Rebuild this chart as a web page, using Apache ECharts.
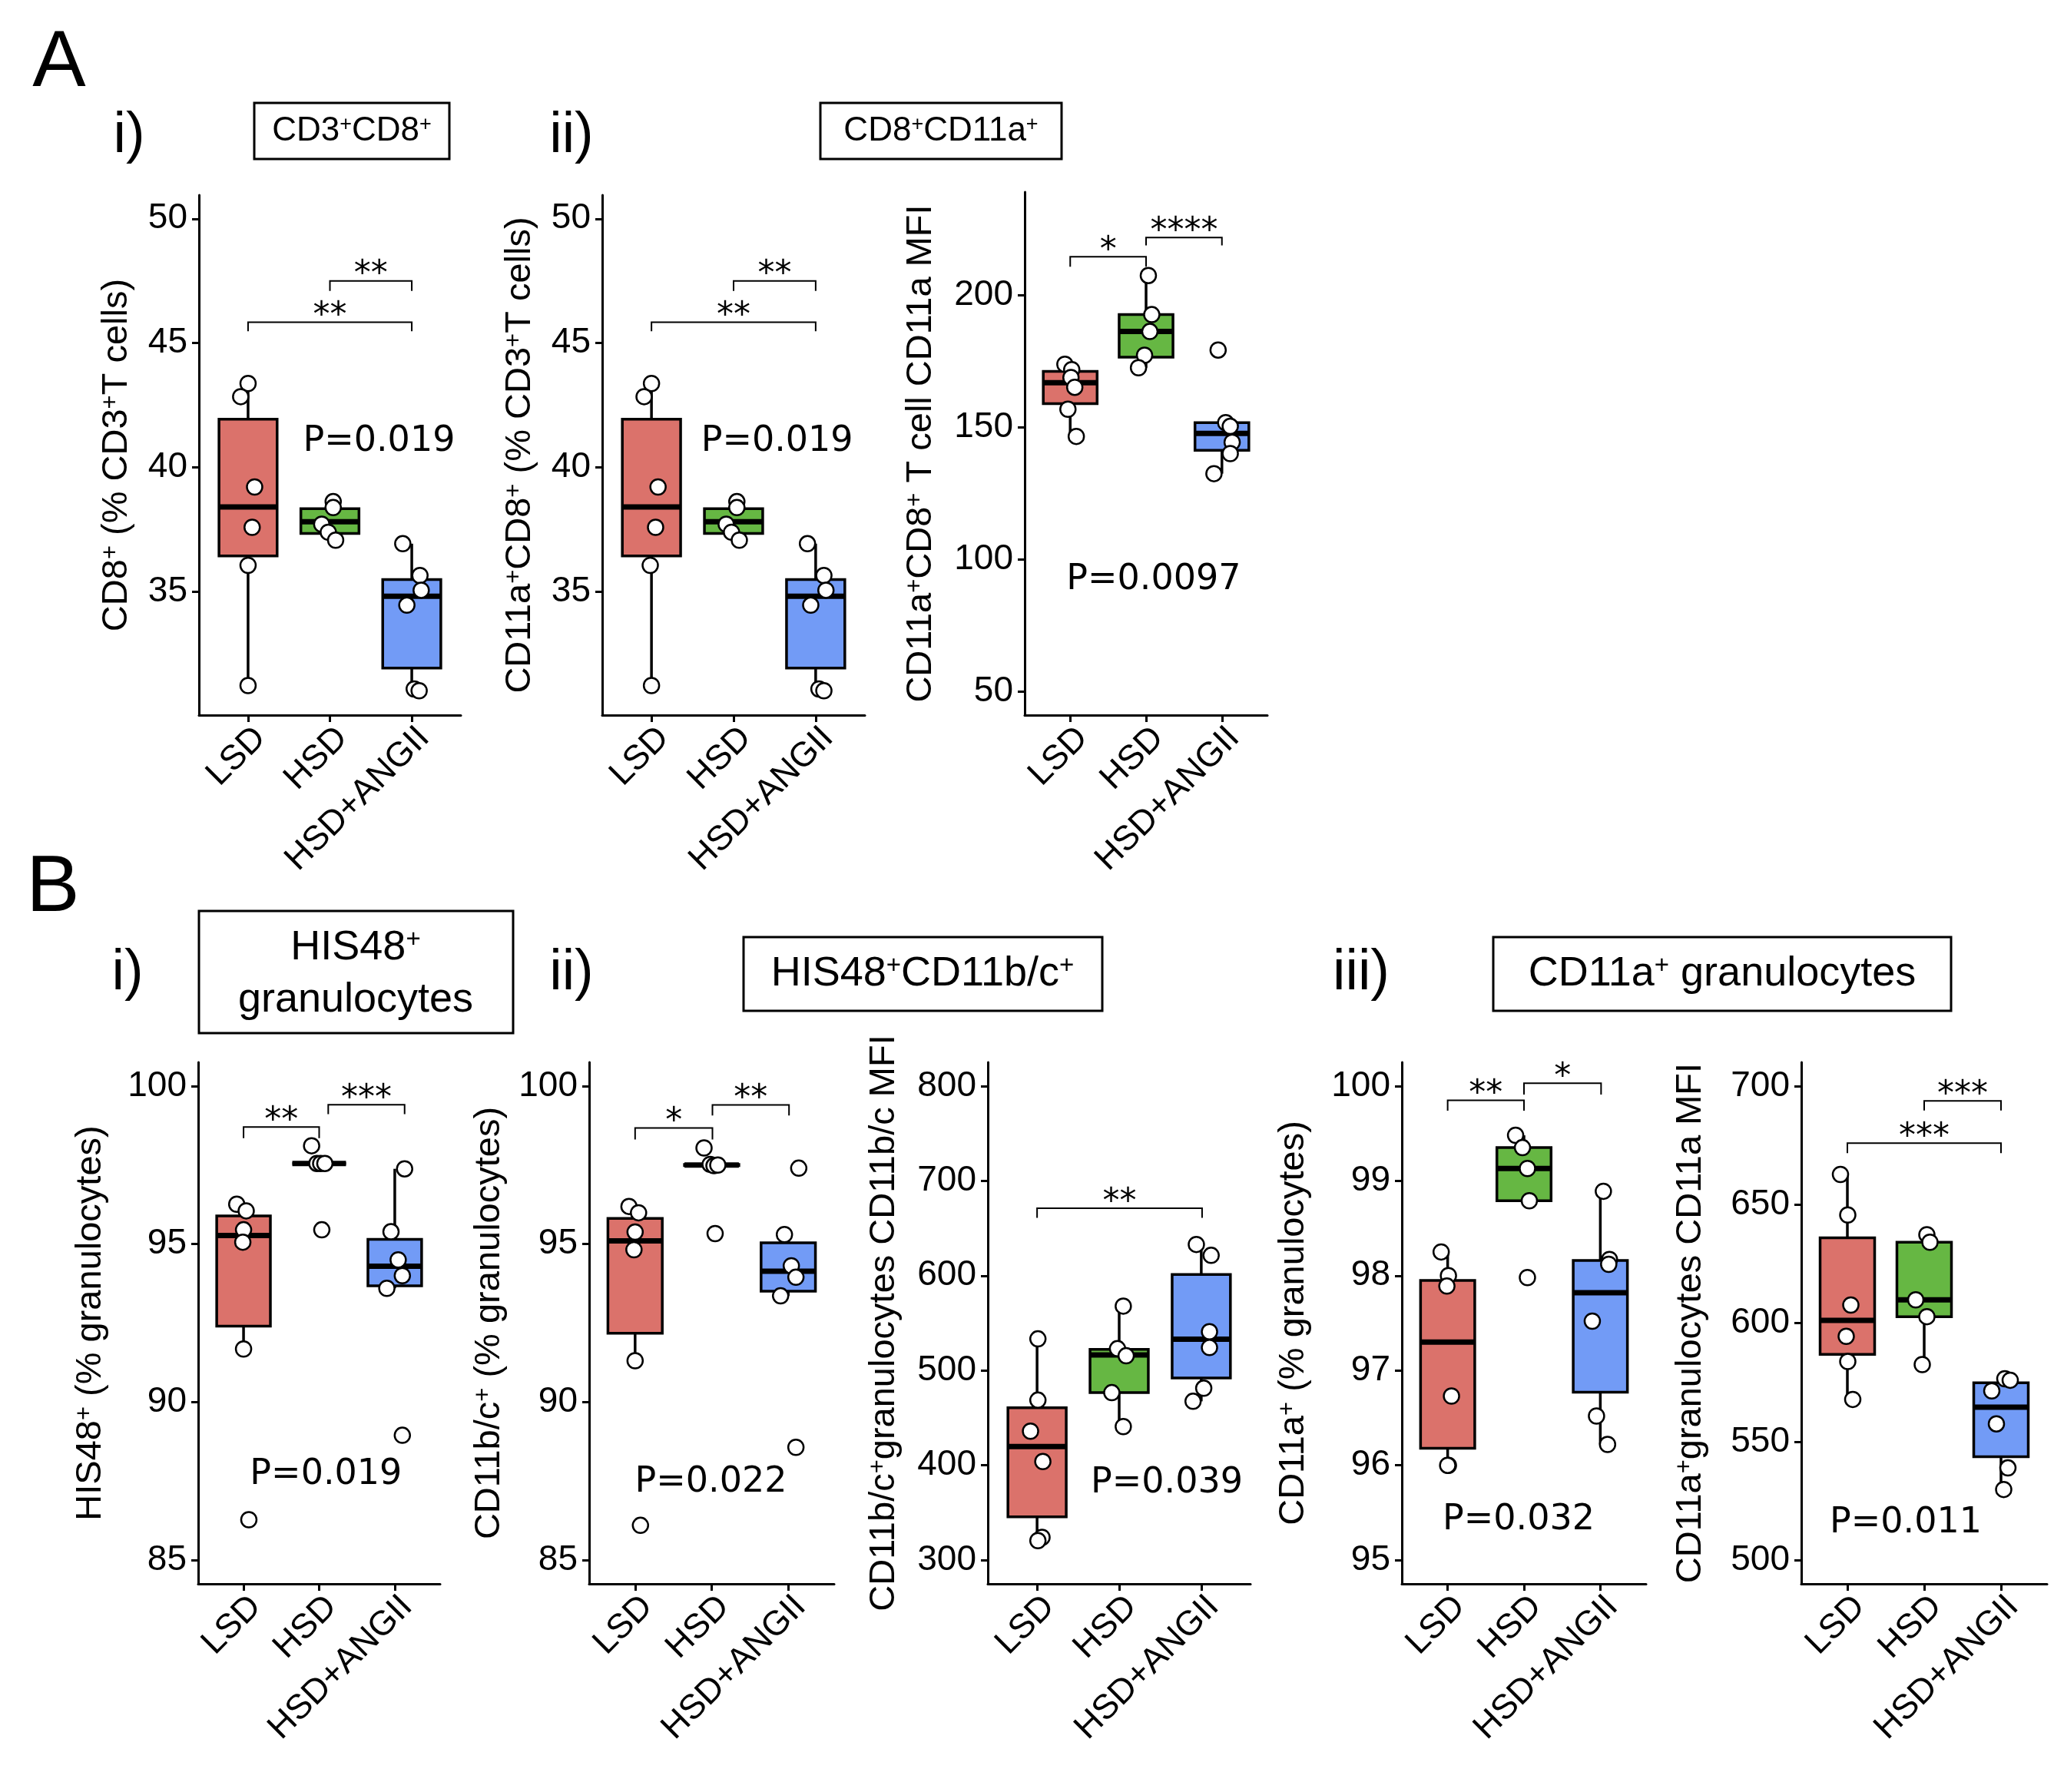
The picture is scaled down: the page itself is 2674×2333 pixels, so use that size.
<!DOCTYPE html>
<html><head><meta charset="utf-8">
<script src="https://cdn.jsdelivr.net/npm/echarts@6/dist/echarts.min.js"></script>
<style>html,body{margin:0;padding:0;background:#fff}#c{width:2674px;height:2333px}</style>
</head><body><div id="c"></div>
<script>
const groups = ['LSD', 'HSD', 'HSD+ANGII'];
const groupColors = ['#DB726B', '#66B743', '#729BF6'];

// box stats per group: [min, q1, median, q3, max]; points: [jitter offset, value]
// A-i  CD8+ (% CD3+ T cells)
const a1Box = [[31.24, 36.45, 38.42, 41.94, 43.38], [37.08, 37.35, 37.82, 38.35, 38.63], [31.05, 31.94, 34.83, 35.50, 36.94]];
const a1Pts = [
  [[0, 43.38], [-0.09, 42.85], [0.08, 39.22], [0.05, 37.6], [0, 36.07], [0, 31.24]],
  [[0.04, 38.63], [0.04, 38.39], [-0.1, 37.72], [-0.02, 37.4], [0.07, 37.08]],
  [[-0.11, 36.94], [0.1, 35.66], [0.115, 35.07], [-0.06, 34.47], [0.03, 31.1], [0.09, 31.03]]
];
const a1Sig = [[1, 3, 45.84, 45.48, '**'], [2, 3, 47.5, 47.1, '**']];
const a1P = [2.6, 41.05, 'P=0.019'];
const a1Ticks = [35, 40, 45, 50];

// A-ii  CD11a+CD8+ (% CD3+ T cells)
const a2Box = [[31.24, 36.45, 38.42, 41.94, 43.38], [37.08, 37.35, 37.82, 38.35, 38.63], [31.05, 31.94, 34.83, 35.50, 36.94]];
const a2Pts = [
  [[0, 43.38], [-0.09, 42.85], [0.08, 39.22], [0.05, 37.6], [-0.015, 36.07], [0, 31.24]],
  [[0.04, 38.63], [0.04, 38.39], [-0.09, 37.72], [-0.025, 37.4], [0.07, 37.08]],
  [[-0.1, 36.94], [0.1, 35.66], [0.125, 35.07], [-0.06, 34.47], [0.04, 31.1], [0.1, 31.03]]
];
const a2Sig = [[1, 3, 45.84, 45.48, '**'], [2, 3, 47.5, 47.1, '**']];
const a2P = [2.53, 41.05, 'P=0.019'];
const a2Ticks = [35, 40, 45, 50];

// A-iii  CD11a+CD8+ T cell CD11a MFI
const a3Box = [[146.5, 158.9, 166.8, 171.1, 173.8], [172.5, 176.5, 186.2, 192.6, 207.4], [132.4, 141.2, 147.6, 151.7, 151.7]];
const a3Pts = [
  [[-0.07, 173.8], [0.02, 171.8], [0.01, 168.8], [0.06, 165.1], [-0.03, 156.8], [0.08, 146.5]],
  [[0.03, 207.4], [0.075, 192.6], [0.05, 186.2], [-0.02, 177.2], [-0.1, 172.5]],
  [[-0.05, 179.2], [0.05, 151.7], [0.11, 150.3], [0.135, 144.3], [0.11, 140.0], [-0.105, 132.4]]
];
const a3Sig = [[1, 2, 214.5, 210.7, '*'], [2, 3, 221.8, 218.8, '****']];
const a3P = [2.1, 92.2, 'P=0.0097'];
const a3Ticks = [50, 100, 150, 200];

// B-i  HIS48+ (% granulocytes)
const b1Box = [[91.68, 92.4, 95.27, 95.89, 96.26], [97.55, 97.55, 97.55, 97.55, 97.55], [93.6, 93.68, 94.3, 95.15, 97.38]];
const b1Pts = [
  [[-0.09, 96.26], [0.035, 96.05], [0, 95.45], [-0.01, 95.06], [0, 91.68], [0.07, 86.28]],
  [[-0.1, 98.11], [-0.03, 97.55], [0.02, 97.55], [0.075, 97.55], [0.035, 95.45]],
  [[0.13, 97.38], [-0.05, 95.39], [0.045, 94.5], [0.1, 94.0], [-0.105, 93.6], [0.1, 88.95]]
];
const b1Sig = [[1, 2, 98.7, 98.35, '**'], [2.12, 3.13, 99.41, 99.11, '***']];
const b1P = [2.09, 87.7, 'P=0.019'];
const b1Ticks = [85, 90, 95, 100];

// B-ii  CD11b/c+ (% granulocytes)
const b2Box = [[91.31, 92.18, 95.1, 95.81, 96.19], [97.48, 97.48, 97.5, 97.52, 97.52], [93.36, 93.51, 94.14, 95.04, 95.3]];
const b2Pts = [
  [[-0.08, 96.19], [0.045, 95.99], [0, 95.38], [-0.015, 94.82], [0, 91.31], [0.07, 86.1]],
  [[-0.1, 98.04], [-0.02, 97.52], [0.03, 97.48], [0.08, 97.5], [0.045, 95.33]],
  [[0.137, 97.4], [-0.05, 95.3], [0.04, 94.31], [0.1, 93.95], [-0.1, 93.36], [0.1, 88.57]]
];
const b2Sig = [[1, 2.01, 98.67, 98.31, '*'], [2.01, 3.01, 99.4, 99.07, '**']];
const b2P = [1.99, 87.45, 'P=0.022'];
const b2Ticks = [85, 90, 95, 100];

// B-ii  CD11b/c+ granulocytes CD11b/c MFI
const b3Box = [[320.6, 345.6, 419.8, 460.7, 533.3], [440.9, 476.6, 516.3, 522.2, 567.9], [467.5, 492.1, 532.9, 601.2, 632.9]];
const b3Pts = [
  [[0.01, 533.3], [0.01, 468.7], [-0.08, 436], [0.07, 404], [0.06, 324], [0.01, 320.6]],
  [[0.05, 567.9], [-0.02, 523], [0.085, 515.5], [-0.09, 476.6], [0.05, 440.9]],
  [[-0.06, 632.9], [0.12, 621.4], [0.1, 540.9], [0.1, 524.2], [0.03, 481.3], [-0.1, 467.5]]
];
const b3Sig = [[1, 3.01, 671, 661, '**']];
const b3P = [2.58, 381, 'P=0.039'];
const b3Ticks = [300, 400, 500, 600, 700, 800];

// B-iii  CD11a+ (% granulocytes)
const b4Box = [[96.0, 96.18, 97.3, 97.95, 98.25], [98.79, 98.79, 99.13, 99.35, 99.48], [96.22, 96.77, 97.82, 98.16, 98.89]];
const b4Pts = [
  [[-0.085, 98.25], [0.01, 98.0], [-0.01, 97.89], [0.05, 96.73], [0.01, 96.0], [0, 96.0]],
  [[-0.11, 99.48], [-0.02, 99.35], [0.045, 99.13], [0.07, 98.79], [0.045, 97.98]],
  [[0.04, 98.89], [0.12, 98.17], [0.11, 98.12], [-0.105, 97.52], [-0.05, 96.52], [0.095, 96.22]]
];
const b4Sig = [[1, 2, 99.85, 99.74, '**'], [2, 3.01, 100.03, 99.91, '*']];
const b4P = [1.93, 95.42, 'P=0.032'];
const b4Ticks = [95, 96, 97, 98, 99, 100];

// B-iii  CD11a+ granulocytes CD11a MFI
const b5Box = [[567.8, 586.8, 601.1, 636.0, 662.7], [582.5, 602.7, 609.8, 634.1, 637.3], [529.8, 543.6, 564.5, 574.8, 576.5]];
const b5Pts = [
  [[-0.09, 662.7], [0.005, 645.6], [0.045, 607.6], [-0.015, 594.4], [0.005, 583.8], [0.07, 567.8]],
  [[0.035, 637.3], [0.075, 634.1], [-0.11, 609.8], [0.035, 602.7], [-0.025, 582.5]],
  [[0.05, 576.5], [0.12, 575.9], [-0.12, 571.4], [-0.06, 557.5], [0.09, 538.9], [0.035, 529.8]]
];
const b5Sig = [[1, 3, 675.9, 671.7, '***'], [2, 3, 693.7, 689.7, '***']];
const b5P = [1.76, 515.5, 'P=0.011'];
const b5Ticks = [500, 550, 600, 650, 700];

const panels = [
  {box: a1Box, pts: a1Pts, sig: a1Sig, p: a1P, ticks: a1Ticks, min: 30.05, max: 50.95,
   name: '{n|CD8}{s|+}{n| (% CD3}{s|+}{n|T cells)}', grid: {left: 259, top: 254, width: 341, height: 677}, gap: 83},
  {box: a2Box, pts: a2Pts, sig: a2Sig, p: a2P, ticks: a2Ticks, min: 30.05, max: 50.95,
   name: '{n|CD11a}{s|+}{n|CD8}{s|+}{n| (% CD3}{s|+}{n|T cells)}', grid: {left: 784, top: 254, width: 342, height: 677}, gap: 83},
  {box: a3Box, pts: a3Pts, sig: a3Sig, p: a3P, ticks: a3Ticks, min: 41, max: 239,
   name: '{n|CD11a}{s|+}{n|CD8}{s|+}{n| T cell CD11a MFI}', grid: {left: 1334, top: 250, width: 316, height: 681}, gap: 111},
  {box: b1Box, pts: b1Pts, sig: b1Sig, p: b1P, ticks: b1Ticks, min: 84.25, max: 100.75,
   name: '{n|HIS48}{s|+}{n| (% granulocytes)}', grid: {left: 258, top: 1383, width: 315, height: 679}, gap: 116},
  {box: b2Box, pts: b2Pts, sig: b2Sig, p: b2P, ticks: b2Ticks, min: 84.25, max: 100.75,
   name: '{n|CD11b/c}{s|+}{n| (% granulocytes)}', grid: {left: 767, top: 1383, width: 319, height: 679}, gap: 106},
  {box: b3Box, pts: b3Pts, sig: b3Sig, p: b3P, ticks: b3Ticks, min: 275, max: 825,
   name: '{n|CD11b/c}{s|+}{n|granulocytes CD11b/c MFI}', grid: {left: 1286, top: 1383, width: 342, height: 679}, gap: 111},
  {box: b4Box, pts: b4Pts, sig: b4Sig, p: b4P, ticks: b4Ticks, min: 94.75, max: 100.25,
   name: '{n|CD11a}{s|+}{n| (% granulocytes)}', grid: {left: 1825, top: 1383, width: 318, height: 679}, gap: 117},
  {box: b5Box, pts: b5Pts, sig: b5Sig, p: b5P, ticks: b5Ticks, min: 490, max: 710,
   name: '{n|CD11a}{s|+}{n|granulocytes CD11a MFI}', grid: {left: 2345, top: 1383, width: 320, height: 679}, gap: 120}
];

const FONT = '"Liberation Sans", Arial, sans-serif';
const PFONT = '"DejaVu Sans", Verdana, sans-serif';
const BOX_HALF = 0.355;

function boxRender(boxes) {
  return function (params, api) {
    const i = params.dataIndex;
    const b = boxes[i];
    const x = i + 1;
    const pMin = api.coord([x, b[0]]), pQ1 = api.coord([x, b[1]]), pMed = api.coord([x, b[2]]);
    const pQ3 = api.coord([x, b[3]]), pMax = api.coord([x, b[4]]);
    const l = api.coord([x - BOX_HALF, b[2]])[0], r = api.coord([x + BOX_HALF, b[2]])[0];
    return {type: 'group', children: [
      {type: 'line', shape: {x1: pQ3[0], y1: pQ3[1], x2: pMax[0], y2: pMax[1]}, style: {stroke: '#000', lineWidth: 3.5}},
      {type: 'line', shape: {x1: pQ1[0], y1: pQ1[1], x2: pMin[0], y2: pMin[1]}, style: {stroke: '#000', lineWidth: 3.5}},
      {type: 'rect', shape: {x: l, y: pQ3[1], width: r - l, height: Math.max(pQ1[1] - pQ3[1], 0)},
       style: {fill: groupColors[i], stroke: '#000', lineWidth: 3.5}},
      {type: 'line', shape: {x1: l, y1: pMed[1], x2: r, y2: pMed[1]}, style: {stroke: '#000', lineWidth: 7}}
    ]};
  };
}
function sigRender(sig) {
  return function (params, api) {
    const s = sig[params.dataIndex];
    const a = api.coord([s[0], s[3]]), b = api.coord([s[0], s[2]]);
    const c = api.coord([s[1], s[2]]), d = api.coord([s[1], s[3]]);
    return {type: 'group', children: [
      {type: 'polyline', shape: {points: [a, b, c, d]}, style: {stroke: '#000', lineWidth: 2, fill: null}},
      {type: 'text', x: (b[0] + c[0]) / 2, y: b[1] - 7,
       style: {text: s[4], font: '44px ' + PFONT, fill: '#000', align: 'center', verticalAlign: 'middle'}}
    ]};
  };
}
function pRender(p) {
  return function (params, api) {
    const q = api.coord([p[0], p[1]]);
    return {type: 'text', x: q[0], y: q[1],
      style: {text: p[2], font: '46px ' + PFONT, fill: '#000', align: 'center', verticalAlign: 'middle'}};
  };
}

const grid = [], xAxis = [], yAxis = [], series = [];
panels.forEach((P, k) => {
  grid.push(Object.assign({containLabel: false}, P.grid));
  xAxis.push({
    type: 'value', gridIndex: k, min: 0.4, max: 3.6,
    axisLine: {show: true, lineStyle: {color: '#000', width: 3}},
    axisTick: {show: true, length: 9, lineStyle: {color: '#000', width: 3}, customValues: [1, 2, 3]},
    axisLabel: {customValues: [1, 2, 3], rotate: 45, margin: 7, fontSize: 45, fontFamily: FONT, color: '#000',
      align: 'right', verticalAlign: 'top',
      formatter: v => groups[Math.round(v) - 1]},
    splitLine: {show: false}
  });
  yAxis.push({
    type: 'value', gridIndex: k, min: P.min, max: P.max,
    axisLine: {show: true, lineStyle: {color: '#000', width: 3}},
    axisTick: {show: true, length: 9, lineStyle: {color: '#000', width: 3}, customValues: P.ticks},
    axisLabel: {customValues: P.ticks, margin: 15, fontSize: 46, fontFamily: FONT, color: '#000'},
    splitLine: {show: false},
    name: P.name, nameLocation: 'middle', nameGap: P.gap, nameRotate: 90,
    nameTextStyle: {fontFamily: FONT, color: '#000', fontSize: 47,
      rich: {n: {fontSize: 47, fontFamily: FONT, color: '#000'},
             s: {fontSize: 31, fontFamily: FONT, color: '#000', verticalAlign: 'top', padding: [0, 0, 14, 0]}}}
  });
  series.push({
    type: 'custom', xAxisIndex: k, yAxisIndex: k, z: 2,
    data: P.box.map((b, i) => [i + 1].concat(b)),
    encode: {x: 0, y: [1, 2, 3, 4, 5]},
    renderItem: boxRender(P.box)
  });
  series.push({
    type: 'scatter', xAxisIndex: k, yAxisIndex: k, z: 3,
    symbol: 'circle', symbolSize: 20,
    itemStyle: {color: '#fff', borderColor: '#000', borderWidth: 2.5, opacity: 1},
    data: P.pts.flatMap((g, i) => g.map(p => [i + 1 + p[0], p[1]]))
  });
  series.push({
    type: 'custom', xAxisIndex: k, yAxisIndex: k, z: 4,
    data: P.sig.map(s => s.slice(0, 4)),
    encode: {x: [0, 1], y: [2, 3]},
    renderItem: sigRender(P.sig)
  });
  series.push({
    type: 'custom', xAxisIndex: k, yAxisIndex: k, z: 4,
    data: [[P.p[0], P.p[1]]], encode: {x: 0, y: 1},
    renderItem: pRender(P.p)
  });
});

const supRich = (size) => ({
  n: {fontSize: size, fontFamily: FONT, color: '#000'},
  s: {fontSize: Math.round(size * 0.62), fontFamily: FONT, color: '#000', verticalAlign: 'top', padding: [0, 0, Math.round(size * 0.3), 0]}
});

const graphic = [
  {type: 'text', x: 77, y: 83, style: {text: 'A', font: '104px ' + FONT, fill: '#000', align: 'center', verticalAlign: 'middle'}},
  {type: 'text', x: 69, y: 1157, style: {text: 'B', font: '104px ' + FONT, fill: '#000', align: 'center', verticalAlign: 'middle'}},
  {type: 'text', x: 168, y: 178, style: {text: 'i)', font: '74px ' + FONT, fill: '#000', align: 'center', verticalAlign: 'middle'}},
  {type: 'text', x: 744, y: 178, style: {text: 'ii)', font: '74px ' + FONT, fill: '#000', align: 'center', verticalAlign: 'middle'}},
  {type: 'text', x: 166, y: 1268, style: {text: 'i)', font: '74px ' + FONT, fill: '#000', align: 'center', verticalAlign: 'middle'}},
  {type: 'text', x: 744, y: 1268, style: {text: 'ii)', font: '74px ' + FONT, fill: '#000', align: 'center', verticalAlign: 'middle'}},
  {type: 'text', x: 1772, y: 1268, style: {text: 'iii)', font: '74px ' + FONT, fill: '#000', align: 'center', verticalAlign: 'middle'}},
  {type: 'rect', shape: {x: 331, y: 134, width: 254, height: 73}, style: {fill: '#fff', stroke: '#000', lineWidth: 3}},
  {type: 'text', x: 458, y: 171, style: {text: '{n|CD3}{s|+}{n|CD8}{s|+}', rich: supRich(44), align: 'center', verticalAlign: 'middle'}},
  {type: 'rect', shape: {x: 1068, y: 134, width: 314, height: 73}, style: {fill: '#fff', stroke: '#000', lineWidth: 3}},
  {type: 'text', x: 1225, y: 171, style: {text: '{n|CD8}{s|+}{n|CD11a}{s|+}', rich: supRich(44), align: 'center', verticalAlign: 'middle'}},
  {type: 'rect', shape: {x: 259, y: 1186, width: 409, height: 159}, style: {fill: '#fff', stroke: '#000', lineWidth: 3}},
  {type: 'text', x: 463, y: 1234, style: {text: '{n|HIS48}{s|+}', rich: supRich(54), align: 'center', verticalAlign: 'middle'}},
  {type: 'text', x: 463, y: 1302, style: {text: 'granulocytes', font: '54px ' + FONT, fill: '#000', align: 'center', verticalAlign: 'middle'}},
  {type: 'rect', shape: {x: 968, y: 1220, width: 467, height: 96}, style: {fill: '#fff', stroke: '#000', lineWidth: 3}},
  {type: 'text', x: 1201, y: 1268, style: {text: '{n|HIS48}{s|+}{n|CD11b/c}{s|+}', rich: supRich(54), align: 'center', verticalAlign: 'middle'}},
  {type: 'rect', shape: {x: 1944, y: 1220, width: 596, height: 96}, style: {fill: '#fff', stroke: '#000', lineWidth: 3}},
  {type: 'text', x: 2242, y: 1268, style: {text: '{n|CD11a}{s|+}{n| granulocytes}', rich: supRich(54), align: 'center', verticalAlign: 'middle'}}
];

const chart = echarts.init(document.getElementById('c'), null, {renderer: 'canvas'});
chart.setOption({
  backgroundColor: '#fff', animation: false,
  grid, xAxis, yAxis, series, graphic
});
</script>
</body></html>
